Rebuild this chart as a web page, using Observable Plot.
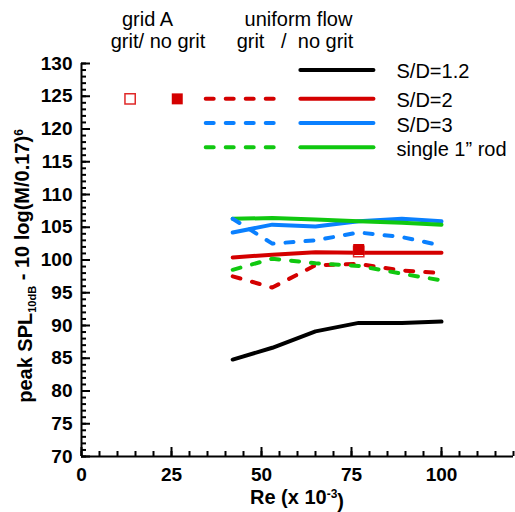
<!DOCTYPE html>
<html><head><meta charset="utf-8">
<script src="https://cdn.jsdelivr.net/npm/d3@7"></script>
<script src="https://cdn.jsdelivr.net/npm/@observablehq/plot@0.6"></script>
<style>body{margin:0;background:#fff} #chart{width:515px;height:512px}</style>
</head><body><div id="chart"></div>
<script>
// ---- data ----
const re = [42, 53, 65, 77, 89, 100];
const sd12NoGrit = [84.8, 86.6, 89.1, 90.4, 90.4, 90.6];
const sd2NoGrit  = [100.4, 100.8, 101.2, 101.1, 101.1, 101.1];
const sd3NoGrit  = [104.2, 105.4, 105.1, 105.9, 106.3, 105.9];
const rodNoGrit  = [106.3, 106.4, 106.2, 105.9, 105.7, 105.4];
const sd2Grit    = [97.5, 95.8, 99.2, 99.4, 98.4, 98.0];
const sd3Grit    = [106.3, 102.5, 103.0, 104.2, 103.5, 102.2];
const rodGrit    = [98.5, 100.2, 99.5, 99.1, 97.9, 96.9];
const gridARe     = [77];
const gridAGrit   = [101.3];
const gridANoGrit = [101.6];
const seriesNames = ["S/D=1.2", "S/D=2", "S/D=3", "single 1\u201d rod"];
const yTicks = d3.range(70, 131, 5);
const yMinorTicks = d3.range(70, 131, 1);
const xTicks = [0, 25, 50, 75, 100];
const xMinorTicks = d3.range(0, 121, 5);

// ---- styling / layout ----
const colors = ["#000000", "#d40000", "#0a80ff", "#10c810"];
const FONT = "'Liberation Sans', Arial, sans-serif";
const dash = "8,12";
const W = 515, H = 512, ML = 81, MR = 2, MT = 63, MB = 56;
const X0 = 0, X1 = 120, Y0 = 70, Y1 = 130;
const series = [
  {name: seriesNames[0], color: colors[0], noGrit: sd12NoGrit, grit: null},
  {name: seriesNames[1], color: colors[1], noGrit: sd2NoGrit, grit: sd2Grit},
  {name: seriesNames[2], color: colors[2], noGrit: sd3NoGrit, grit: sd3Grit},
  {name: seriesNames[3], color: colors[3], noGrit: rodNoGrit, grit: rodGrit}
];
const pts = (ys, s) => ys.map((y, i) => ({x: re[i], y, s}));
const solidData = series.flatMap(s => pts(s.noGrit, s.name));
const dashedData = series.filter(s => s.grit).flatMap(s => pts(s.grit, s.name));
const colorOf = Object.fromEntries(series.map(s => [s.name, s.color]));

// legend layout (in chart units)
const legendRowY = [129.0, 124.6, 120.9, 117.2];
const legendDash = [34.5, 54.3], legendSolid = [60.8, 81.1], legendLabelX = 87.5;
const legendSquareX = [13.5, 26.6];
const legendRows = series.map((s, i) => ({...s, y: legendRowY[i]}));

const lineOpts = {strokeWidth: 4, strokeLinecap: "round", strokeLinejoin: "round"};
const noLabel = () => "";

const chart = Plot.plot({
  width: W, height: H,
  marginLeft: ML, marginRight: MR, marginTop: MT, marginBottom: MB,
  style: {fontFamily: FONT, fontSize: "19px", fontWeight: "bold", color: "#000", background: "#fff", overflow: "visible"},
  x: {domain: [X0, X1], label: null},
  y: {domain: [Y0, Y1], label: null},
  marks: [
    // data: solid (no grit)
    Plot.line(solidData, {x: "x", y: "y", z: "s", stroke: d => colorOf[d.s], ...lineOpts}),
    // data: dashed (grit)
    Plot.line(dashedData, {x: "x", y: "y", z: "s", stroke: d => colorOf[d.s], strokeDasharray: dash, ...lineOpts}),
    // grid A points
    Plot.dot(gridARe.map((x, i) => ({x, y: gridAGrit[i]})), {x: "x", y: "y", symbol: "square", r: 5.8, stroke: "#e02828", strokeWidth: 1.5, fill: "white"}),
    Plot.dot(gridARe.map((x, i) => ({x, y: gridANoGrit[i]})), {x: "x", y: "y", symbol: "square", r: 6.2, fill: colors[1], stroke: "none"}),
    // legend
    Plot.dot([{x: legendSquareX[0], y: legendRowY[1]}], {x: "x", y: "y", symbol: "square", r: 5.8, stroke: "#e02828", strokeWidth: 1.5, fill: "white"}),
    Plot.dot([{x: legendSquareX[1], y: legendRowY[1]}], {x: "x", y: "y", symbol: "square", r: 6.2, fill: colors[1], stroke: "none"}),
    Plot.link(legendRows.filter(d => d.grit), {x1: legendDash[0], x2: legendDash[1], y1: "y", y2: "y", stroke: "color", strokeDasharray: dash, ...lineOpts}),
    Plot.link(legendRows, {x1: legendSolid[0], x2: legendSolid[1], y1: "y", y2: "y", stroke: "color", ...lineOpts}),
    Plot.text(legendRows, {x: legendLabelX, y: "y", text: "name", textAnchor: "start", dy: 2, fontSize: 20, fontWeight: "normal", fill: "#000"}),
    // axes: inward minor and major ticks, labels
    Plot.axisX({ticks: xMinorTicks, tickSize: -5, tickFormat: noLabel, stroke: "#000", strokeWidth: 2, label: null}),
    Plot.axisY({ticks: yMinorTicks, tickSize: -5, tickFormat: noLabel, stroke: "#000", strokeWidth: 2, label: null}),
    Plot.axisX({ticks: xTicks, tickSize: -9, tickPadding: 20, stroke: "#000", strokeWidth: 2, label: null, fontWeight: "bold"}),
    Plot.axisY({ticks: yTicks, tickSize: -9, tickPadding: 18, stroke: "#000", strokeWidth: 2, label: null, fontWeight: "bold"}),
    Plot.ruleX([X0], {strokeWidth: 2, stroke: "#000"}),
    Plot.ruleY([Y0], {strokeWidth: 2, stroke: "#000"})
  ]
});
document.getElementById("chart").appendChild(chart);

// titles and header text
const svg = d3.select(chart);
const headers = [
  {t: "grid A", x: 147.5, y: 26},
  {t: "grit/ no grit", x: 158, y: 48},
  {t: "uniform flow", x: 298.5, y: 26},
  {t: "grit   /  no grit", x: 295, y: 48}
];
svg.append("g").attr("font-family", FONT).attr("font-size", 20).attr("font-weight", "normal")
  .selectAll("text").data(headers).join("text")
  .attr("x", d => d.x).attr("y", d => d.y).attr("text-anchor", "middle")
  .attr("xml:space", "preserve").style("white-space", "pre").text(d => d.t);

const xt = svg.append("text").attr("font-family", FONT).attr("font-size", 20).attr("font-weight", "bold")
  .attr("x", 297).attr("y", 504).attr("text-anchor", "middle");
xt.append("tspan").text("Re (x 10");
xt.append("tspan").attr("dy", "-0.5em").attr("font-size", 12).text("-3");
xt.append("tspan").attr("dy", "0.5em").text(")");

const yt = svg.append("text").attr("font-family", FONT).attr("font-size", 20).attr("font-weight", "bold")
  .attr("transform", "translate(32,266) rotate(-90)").attr("text-anchor", "middle");
yt.append("tspan").text("peak SPL");
yt.append("tspan").attr("dy", "0.35em").attr("font-size", 11).text("10dB");
yt.append("tspan").attr("dy", "-0.35em").text(" - 10 log(M/0.17)");
yt.append("tspan").attr("dy", "-0.5em").attr("font-size", 12).text("6");
</script></body></html>
